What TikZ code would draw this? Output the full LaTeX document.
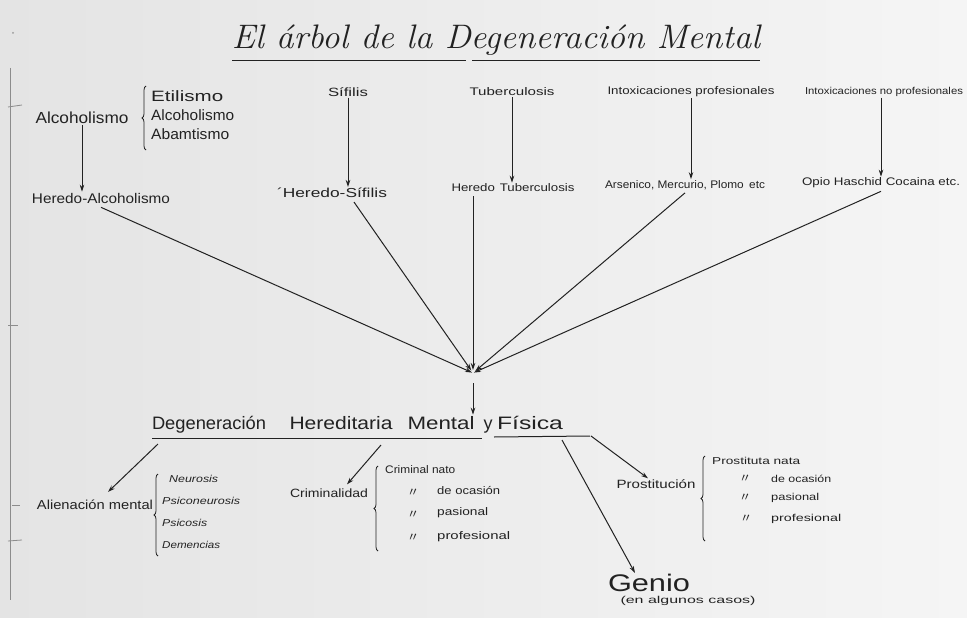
\documentclass[tikz,border=0pt]{standalone}
\usepackage{fontspec}
\usepackage{graphicx}
\newfontfamily\hand{Liberation Sans}
\newfontfamily\cjkfont{Noto Sans CJK SC}
\usetikzlibrary{arrows.meta,decorations.pathreplacing}
\definecolor{ink}{RGB}{34,34,34}
\definecolor{paperL}{RGB}{228,228,228}
\definecolor{paperR}{RGB}{245,245,245}
\newcommand\fw[2]{\resizebox{#1}{\height}{#2}}
\newcommand\fs[1]{\fontsize{#1}{#1}\selectfont}
\newcommand\dit{{\cjkfont 〃}}
\tikzset{
  lbl/.style={inner sep=1pt, text=ink, font=\hand},
  arr/.style={draw=ink, line width=1pt, -{Stealth[length=7pt,width=4.5pt]}},
  ln/.style={draw=ink, line width=1pt},
  brc/.style={draw=ink, line width=0.8pt, decorate, decoration={brace, amplitude=4pt}},
  edge mark/.style={draw=black!45, line width=0.8pt}
}
\begin{document}
\begin{tikzpicture}[x=1pt,y=-1pt]
\useasboundingbox (0,0) rectangle (967,618);
\shade[left color=paperL, right color=paperR] (0,0) rectangle (967,618);
% page edge marks
\draw[edge mark] (10,68) -- (10,600);
\draw[edge mark] (8,107) -- (22,105);
\draw[edge mark] (8,325) -- (18,325);
\draw[edge mark] (12,505) -- (20,505);
\draw[edge mark] (8,541) -- (22,540);
\fill[black!40] (13,33) circle (1pt);

% title
\node[inner sep=0pt, text=ink] (title) at (496,40) {\fw{528pt}{\fs{34}\itshape El árbol de la Degeneración Mental}};
\draw[ln] (232,61) -- (466,61);
\draw[ln] (472,61) -- (760,61);

% top row
\node[lbl] (alc) at (82,118) {\fw{93pt}{\fs{16}Alcoholismo}};
\node[lbl, anchor=west] (eti) at (150,96) {\fw{72pt}{\fs{15}Etilismo}};
\node[lbl, anchor=west] (alc2) at (150,115) {\fw{83pt}{\fs{15}Alcoholismo}};
\node[lbl, anchor=west] (aba) at (150,134) {\fw{78pt}{\fs{15}Abamtismo}};
\draw[brc] (146,150) -- (146,86);
\node[lbl] (halc) at (101,198) {\fw{138pt}{\fs{14}Heredo-Alcoholismo}};
\draw[arr] (alc.south) -- (alc.south |- halc.north);

\node[lbl] (sif) at (348,92) {\fw{40pt}{\fs{12}Sífilis}};
\node[lbl] (hsif) at (332,193) {\fw{110pt}{\fs{13}´Heredo-Sífilis}};
\draw[arr] (sif.south) -- (sif.south |- hsif.north);

\node[lbl] (tub) at (512,92) {\fw{85pt}{\fs{11}Tuberculosis}};
\node[lbl] (htub) at (513,188) {\fw{123pt}{\fs{11}Heredo\hspace{4pt}Tuberculosis}};
\draw[arr] (tub.south) -- (tub.south |- htub.north);

\node[lbl] (ip) at (691,92) {\fw{167pt}{\fs{11}Intoxicaciones profesionales}};
\node[lbl] (ars) at (685,185) {\fw{160pt}{\fs{11}Arsenico, Mercurio, Plomo\hspace{5pt}etc}};
\draw[arr] (ip.south) -- (ip.south |- ars.north);

\node[lbl] (inp) at (884,92) {\fw{158pt}{\fs{10}Intoxicaciones no profesionales}};
\node[lbl] (opio) at (881,183) {\fw{158pt}{\fs{11}Opio Haschid Cocaina etc.}};
\draw[arr] (opio.north |- inp.south) -- (opio.north);

% converging
\coordinate (hub) at (473,373);
\coordinate (hub2) at (473,383);
\draw[arr, shorten >=1pt] ([yshift=-3pt]halc.south) -- (hub);
\draw[arr, shorten >=3pt] ([xshift=22pt,yshift=-3pt]hsif.south) -- (hub);
\draw[arr, shorten >=3pt] ([yshift=-3pt]htub.south -| hub) -- (hub);
\draw[arr, shorten >=3pt] ([yshift=-2pt]ars.south) -- (hub);
\draw[arr, shorten >=1pt] ([yshift=-2pt]opio.south) -- (hub);

% middle line
\node[lbl, anchor=base] (degA) at (209,429) {\fw{114pt}{\fs{18}Degeneración}};
\node[lbl, anchor=base] (degB) at (341,429) {\fw{103pt}{\fs{18}Hereditaria}};
\node[lbl, anchor=base] (degC) at (441,429) {\fw{67pt}{\fs{18}Mental}};
\node[lbl, anchor=base] (degY) at (488,429) {\fw{9pt}{\fs{18}y}};
\node[lbl, anchor=base] (degD) at (530,429) {\fw{66pt}{\fs{18}Física}};
\draw[arr] (hub2) -- (hub2 |- degC.north);
\coordinate (u1a) at (152,438);
\coordinate (u1b) at (482,438);
\coordinate (u2a) at (494,437);
\coordinate (u2b) at (590,436);
\draw[ln] (u1a) -- (u1b);
\draw[ln] (u2a) -- (u2b);

% Alienación
\coordinate (bA) at (158,444);
\node[lbl] (alien) at (95,505) {\fw{116pt}{\fs{13}Alienación mental}};
\draw[arr] (bA) -- ([xshift=13pt,yshift=7pt]alien.north);
\draw[brc] (158,556) -- (158,474);
\node[lbl, anchor=west] (neu) at (168,479) {\fw{49pt}{\fs{10}\itshape Neurosis}};
\node[lbl, anchor=west] (psn) at (161,501) {\fw{78pt}{\fs{10}\itshape Psiconeurosis}};
\node[lbl, anchor=west] (psi) at (161,523) {\fw{45pt}{\fs{10}\itshape Psicosis}};
\node[lbl, anchor=west] (dem) at (161,545) {\fw{58pt}{\fs{10}\itshape Demencias}};

% Criminalidad
\coordinate (bC) at (381,445);
\node[lbl] (crim) at (329,493) {\fw{78pt}{\fs{12}Criminalidad}};
\draw[arr] (bC) -- ([xshift=18pt,yshift=3pt]crim.north);
\draw[brc] (378,551) -- (378,466);
\node[lbl, anchor=west] (cn) at (384,470) {\fw{70pt}{\fs{11}Criminal nato}};
\node[lbl] (cd1) at (413,493) {\fs{12}\dit};
\node[lbl] (cd2) at (413,515) {\fs{12}\dit};
\node[lbl] (cd3) at (413,538) {\fs{12}\dit};
\node[lbl, anchor=west] (co) at (436,491) {\fw{63pt}{\fs{11}de ocasión}};
\node[lbl, anchor=west] (cp) at (436,513) {\fw{51pt}{\fs{11}pasional}};
\node[lbl, anchor=west] (cpr) at (436,537) {\fw{73pt}{\fs{11}profesional}};

% Genio
\coordinate (bG) at (562,440);
\node[lbl] (genio) at (649,583) {\fw{82pt}{\fs{24}Genio}};
\node[lbl] (casos) at (688,601) {\fw{135pt}{\fs{10}(en algunos casos)}};
\draw[arr] (bG) -- ([xshift=-14pt]genio.north);

% Prostitución
\coordinate (bP) at (591,436);
\node[lbl] (pros) at (656,484) {\fw{79pt}{\fs{12}Prostitución}};
\draw[arr] (bP) -- ([xshift=-8pt]pros.north);
\draw[brc] (705,541) -- (705,456);
\node[lbl, anchor=west] (pn) at (711,461) {\fw{88pt}{\fs{10}Prostituta nata}};
\node[lbl] (pd1) at (745,479) {\fs{12}\dit};
\node[lbl] (pd2) at (745,498) {\fs{12}\dit};
\node[lbl] (pd3) at (746,519) {\fs{12}\dit};
\node[lbl, anchor=west] (po) at (770,479) {\fw{60pt}{\fs{10}de ocasión}};
\node[lbl, anchor=west] (pp) at (770,498) {\fw{48pt}{\fs{10}pasional}};
\node[lbl, anchor=west] (ppr) at (770,519) {\fw{70pt}{\fs{10}profesional}};
\end{tikzpicture}
\end{document}
